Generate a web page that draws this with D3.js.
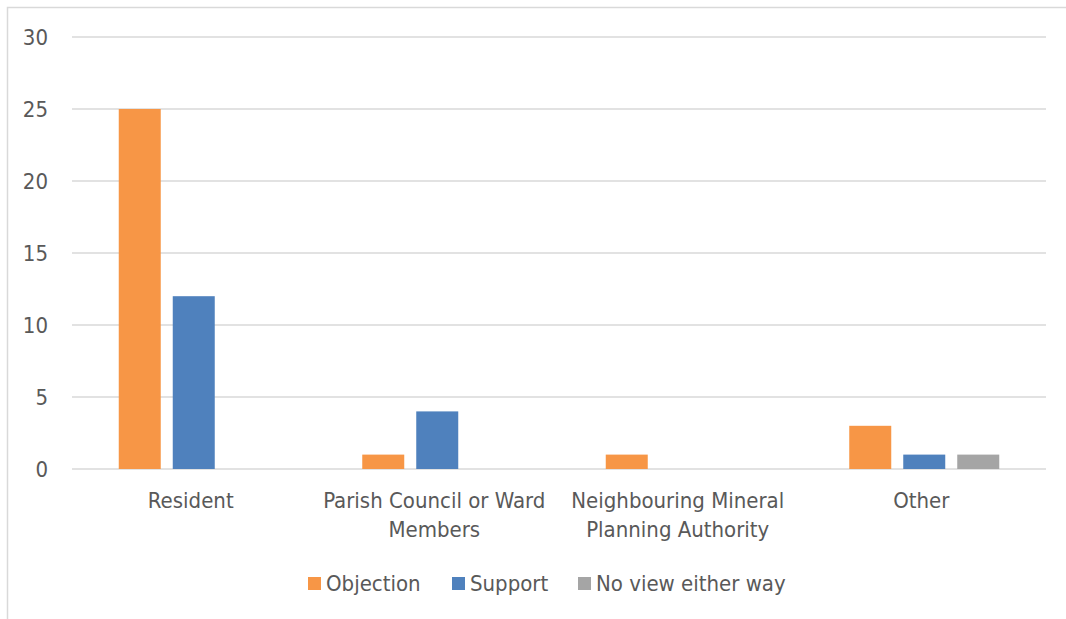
<!DOCTYPE html>
<html><head><meta charset="utf-8">
<script src="https://cdn.jsdelivr.net/npm/d3@7"></script>
<style>body{margin:0;background:#fff}svg{display:block}text{font-family:"Liberation Sans Narrow","DejaVu Sans Condensed",sans-serif;fill:#595959}</style>
</head><body>
<svg id="c" width="1066" height="619"></svg>
<script>
const categories = [["Resident"],["Parish Council or Ward","Members"],["Neighbouring Mineral","Planning Authority"],["Other"]];
const seriesNames = ["Objection","Support","No view either way"];
const objection = [25,1,1,3];
const support = [12,4,0,1];
const noView = [0,0,0,1];
const yTicks = [0,5,10,15,20,25,30];
const colors = ["#F79646","#4F81BD","#A5A5A5"];

const svg = d3.select("#c");
svg.append("rect").attr("x",7.5).attr("y",7.5).attr("width",1100).attr("height",700)
  .attr("fill","#fff").attr("stroke","#D9D9D9").attr("stroke-width",1.5);

const pL=72,pR=1046,pT=37,pB=469;
const fs=22;
const x = d3.scaleBand().domain(d3.range(categories.length)).range([pL,pR]);
const y = d3.scaleLinear().domain([0,30]).range([pB,pT]);
const groupW=150;
const inner = d3.scaleBand().domain(d3.range(3)).range([0,groupW]).paddingInner(12/54).paddingOuter(0);

const g = svg.append("g");
g.selectAll("line.grid").data(yTicks).join("line")
  .attr("x1",pL).attr("x2",pR).attr("y1",d=>y(d)).attr("y2",d=>y(d))
  .attr("stroke","#D9D9D9").attr("stroke-width",1.5);
g.selectAll("text.yt").data(yTicks).join("text")
  .attr("x",48).attr("y",d=>y(d)+8).attr("text-anchor","end").attr("font-size",fs).text(d=>d);

const series=[objection,support,noView];
const data=[];
categories.forEach((c,i)=>series.forEach((s,j)=>{ if(s[i]>0) data.push({i,j,v:s[i]}); }));
g.selectAll("rect.bar").data(data).join("rect")
  .attr("x",d=>x(d.i)+x.bandwidth()/2-groupW/2+inner(d.j))
  .attr("width",inner.bandwidth())
  .attr("y",d=>y(d.v)).attr("height",d=>y(0)-y(d.v))
  .attr("fill",d=>colors[d.j]);

categories.forEach((lines,i)=>{
  const t=g.append("text").attr("text-anchor","middle").attr("font-size",fs);
  lines.forEach((l,k)=>t.append("tspan").attr("x",x(i)+x.bandwidth()/2-3).attr("y",508+k*29).text(l));
});

const legX=[308,452,578];
seriesNames.forEach((n,j)=>{
  g.append("rect").attr("x",legX[j]).attr("y",577).attr("width",13).attr("height",13).attr("fill",colors[j]);
  g.append("text").attr("x",legX[j]+18).attr("y",591).attr("font-size",fs).text(n);
});
</script>
</body></html>
